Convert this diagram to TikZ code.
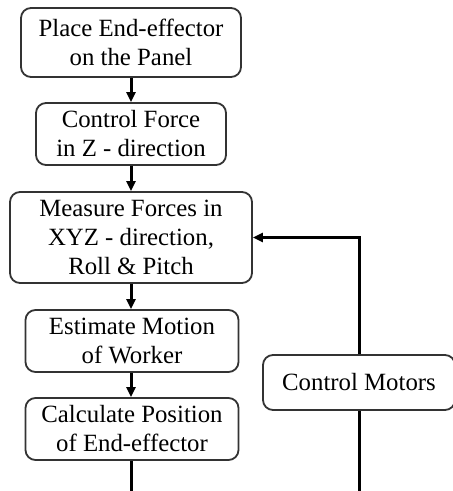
\documentclass[tikz,border=0pt]{standalone}
\usepackage{fontspec}
\setmainfont{Liberation Serif}
\usetikzlibrary{arrows.meta}
\tikzset{
    stepbox/.style = {draw = black!80, line width = 0.9pt, rounded corners = 5pt, align = center, inner sep = 0pt, font = \fontsize{12.4}{14.5}\selectfont},
    flow/.style = {line width = 1.5pt, -{Triangle[length = 5pt, width = 4.5pt]}}
}
\begin{document}
\begin{tikzpicture}[x = 0.5pt, y = -0.5pt]
        \useasboundingbox (0, 0) rectangle (452, 491);
        \node [stepbox, minimum width = 110pt, minimum height = 34.5pt] (place) at (131, 42.5) {Place End-effector\\on the Panel};
        \node [stepbox, minimum width = 95pt, minimum height = 31pt] (force) at (131, 134) {Control Force\\in Z - direction};
        \node [stepbox, minimum width = 121pt, minimum height = 45.5pt] (measure) at (131, 237.5) {Measure Forces in\\XYZ - direction,\\Roll \& Pitch};
        \node [stepbox, minimum width = 106.5pt, minimum height = 31pt] (estimate) at (132, 341) {Estimate Motion\\of Worker};
        \node [stepbox, minimum width = 106.5pt, minimum height = 31pt] (calc) at (132, 429) {Calculate Position\\of End-effector};
        \node [stepbox, minimum width = 96pt, minimum height = 27.5pt] (motors) at (359, 382.5) {Control Motors};
        \coordinate (calcout) at (131, 491);
        \coordinate (motorsin) at (359, 491);
        \draw [flow] (place.south) -- (force.north);
        \draw [flow] (force.south) -- (measure.north);
        \draw [flow] (measure.south) -- (measure.south |- estimate.north);
        \draw [flow] (measure.south |- estimate.south) -- (measure.south |- calc.north);
        \draw [line width = 1.5pt] (measure.south |- calc.south) -- (calcout);
        \draw [line width = 1.5pt] (motors.south) -- (motorsin);
        \draw [flow] (motors.north) |- (measure.east);
    \end{tikzpicture}
\end{document}
